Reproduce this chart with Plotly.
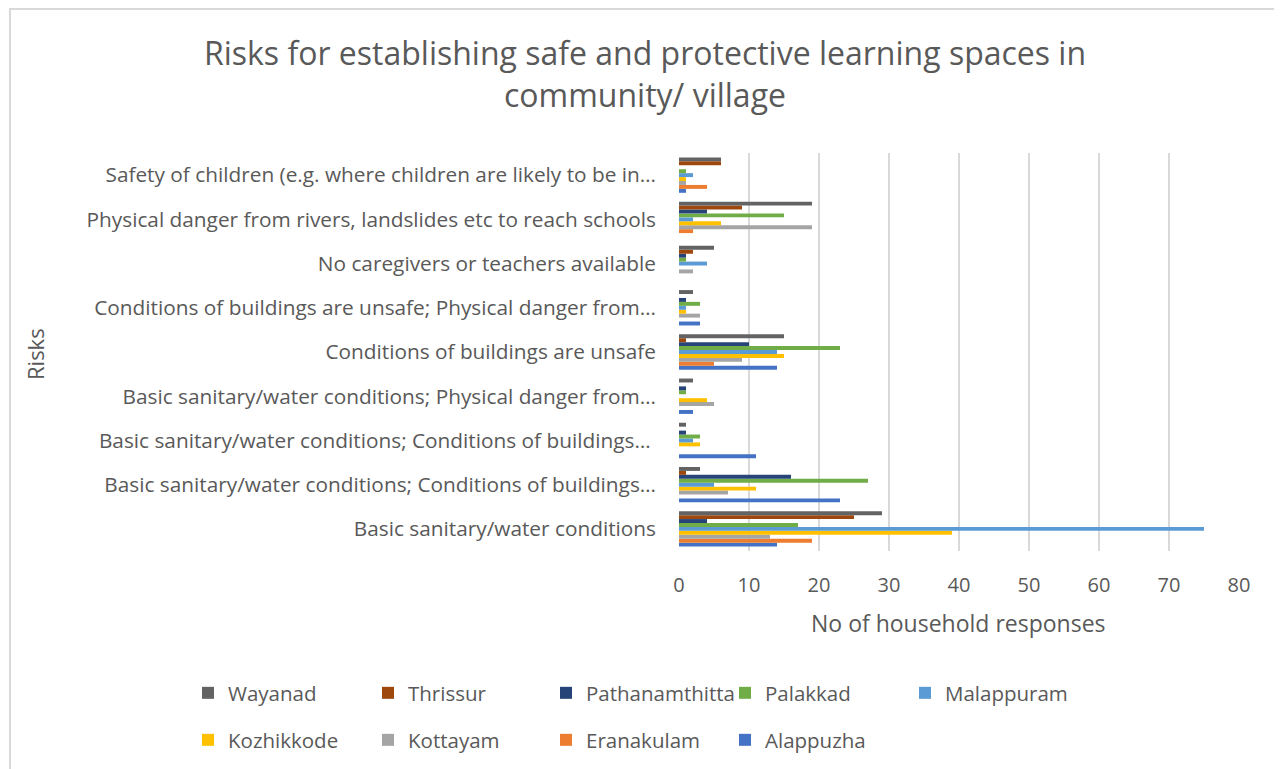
import plotly.graph_objects as go

# Categories, bottom to top (as they appear on the axis)
categories = [
    "Basic sanitary/water conditions",
    "Basic sanitary/water conditions; Conditions of buildings…",
    "Basic sanitary/water conditions; Conditions of buildings… ",
    "Basic sanitary/water conditions; Physical danger from…",
    "Conditions of buildings are unsafe",
    "Conditions of buildings are unsafe; Physical danger from…",
    "No caregivers or teachers available",
    "Physical danger from rivers, landslides etc to reach schools",
    "Safety of children (e.g. where children are likely to be in…",
]

# Values per district, same order as categories (bottom to top)
alappuzha      = [14, 23, 11, 2, 14, 3, 0, 0, 1]
eranakulam     = [19, 0, 0, 0, 5, 0, 0, 2, 4]
kottayam       = [13, 7, 0, 5, 9, 3, 2, 19, 1]
kozhikkode     = [39, 11, 3, 4, 15, 1, 0, 6, 1]
malappuram     = [75, 5, 2, 0, 14, 1, 4, 2, 2]
palakkad       = [17, 27, 3, 1, 23, 3, 1, 15, 1]
pathanamthitta = [4, 16, 1, 1, 10, 1, 1, 4, 0]
thrissur       = [25, 1, 0, 0, 1, 0, 2, 9, 6]
wayanad        = [29, 3, 1, 2, 15, 2, 5, 19, 6]

series_names = ["Alappuzha", "Eranakulam", "Kottayam", "Kozhikkode", "Malappuram",
                "Palakkad", "Pathanamthitta", "Thrissur", "Wayanad"]
series_values = [alappuzha, eranakulam, kottayam, kozhikkode, malappuram,
                 palakkad, pathanamthitta, thrissur, wayanad]
series_colors = ["#4472C4", "#ED7D31", "#A5A5A5", "#FFC000", "#5B9BD5",
                 "#70AD47", "#264478", "#9E480E", "#636363"]

x_ticks = [0, 10, 20, 30, 40, 50, 60, 70, 80]

FONT = "Open Sans"
GREY = "#595959"

# page offset (browser body margin) compensation
OFF = 8
W, H = 1282 - OFF, 769 - OFF
PLOT_L, PLOT_R, PLOT_T, PLOT_B = 679 - OFF, 1239 - OFF, 153 - OFF, 551 - OFF
L, R, T, B = PLOT_L, W - PLOT_R, PLOT_T, H - PLOT_B
pw, ph = PLOT_R - PLOT_L, PLOT_B - PLOT_T


def px_x(page_x):
    return (page_x - OFF - PLOT_L) / pw


def px_y(page_y):
    return (PLOT_B - (page_y - OFF)) / ph


def cx(page_x):
    return (page_x - OFF) / W


def cy(page_y):
    return 1 - (page_y - OFF) / H


# legend slots: (page text start x, page row center y) for each series
legend_pos = {
    "Wayanad": (225, 693), "Thrissur": (405, 693), "Pathanamthitta": (583, 693),
    "Palakkad": (762, 693), "Malappuram": (942, 693),
    "Kozhikkode": (225, 740), "Kottayam": (405, 740), "Eranakulam": (583, 740),
    "Alappuzha": (762, 740),
}

fig = go.Figure()
legend_layouts = {}
for i, (name, vals, col) in enumerate(zip(series_names, series_values, series_colors)):
    lg = "legend" if i == 0 else f"legend{i + 1}"
    fig.add_trace(go.Bar(
        y=categories, x=vals, name=name, orientation="h",
        marker=dict(color=col, line=dict(width=0)),
        legend=lg, showlegend=True,
    ))
    tx, ty = legend_pos[name]
    legend_layouts[lg] = dict(
        orientation="h", xref="container", yref="container",
        x=cx(tx - 37), y=cy(ty), xanchor="left", yanchor="middle",
        font=dict(size=20.5, color=GREY, family=FONT), bgcolor="rgba(0,0,0,0)",
    )

fig.update_layout(
    width=W, height=H,
    showlegend=True,
    margin=dict(l=L, r=R, t=T, b=B, autoexpand=False),
    paper_bgcolor="white", plot_bgcolor="white",
    font=dict(family=FONT, color=GREY, size=18),
    barmode="group", bargap=0.2, bargroupgap=0,
    title=dict(
        text="Risks for establishing safe and protective learning spaces in<br>community/ village",
        x=cx(645), xref="container", xanchor="center",
        y=1 - 57 / H, yref="container", yanchor="top",
        font=dict(family=FONT, size=32, color=GREY),
    ),
    xaxis=dict(
        range=[0, 80], tickvals=x_ticks, showgrid=True,
        gridcolor="#d9d9d9", gridwidth=2, zeroline=False, showline=False,
        tickfont=dict(size=20, color=GREY),
        ticklabelstandoff=20,
    ),
    yaxis=dict(
        categoryorder="array", categoryarray=categories,
        showgrid=False, zeroline=False, showline=False,
        tickfont=dict(size=20.8, color=GREY),
        ticklabelstandoff=22,
    ),
    annotations=[
        dict(text="No of household responses", xref="paper", yref="paper",
             x=px_x(958), y=px_y(623), xanchor="center", yanchor="middle",
             showarrow=False, font=dict(size=23, color=GREY, family=FONT)),
        dict(text="Risks", xref="paper", yref="paper", textangle=-90,
             x=px_x(35), y=px_y(354), xanchor="center", yanchor="middle",
             showarrow=False, font=dict(size=22, color=GREY, family=FONT)),
    ],
    shapes=[dict(
        type="rect", xref="paper", yref="paper",
        x0=px_x(10), x1=px_x(1279), y0=px_y(800), y1=px_y(9),
        line=dict(color="#d9d9d9", width=2), fillcolor="rgba(0,0,0,0)",
        layer="below",
    )],
    **legend_layouts,
)

fig.write_html("out.html")
